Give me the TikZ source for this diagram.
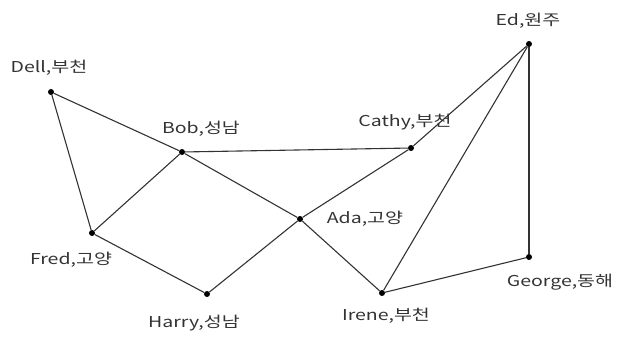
\documentclass[tikz,border=0pt]{standalone}
\usepackage{fontspec}
\setmainfont[FakeStretch=1.3]{Noto Sans CJK KR}
\begin{document}
\begin{tikzpicture}[x=1pt,y=-1pt,
  vtx/.style={circle,fill=black,inner sep=0pt,minimum size=6pt},
  lbl/.style={font=\fontsize{15}{17}\selectfont,text=black!80,inner sep=0pt},
  edge/.style={draw=black!80,line width=1.1pt}]
\useasboundingbox (0,0) rectangle (621,338);
\node[vtx] (dell) at (51,92) {};
\node[vtx] (bob) at (182,152) {};
\node[vtx] (cathy) at (411,148) {};
\node[vtx] (ed) at (529,44) {};
\node[vtx] (fred) at (92,233) {};
\node[vtx] (ada) at (300,219) {};
\node[vtx] (harry) at (207,294) {};
\node[vtx] (irene) at (382,293) {};
\node[vtx] (george) at (529,257) {};
\node[lbl] (ldell) at (49,68) {Dell,부천};
\node[lbl] (lbob) at (201,129) {Bob,성남};
\node[lbl] (lcathy) at (405,122) {Cathy,부천};
\node[lbl] (led) at (528,21) {Ed,원주};
\node[lbl] (lfred) at (71,260) {Fred,고양};
\node[lbl] (lharry) at (194,323) {Harry,성남};
\node[lbl] (lada) at (365,219) {Ada,고양};
\node[lbl] (lirene) at (386,316) {Irene,부천};
\node[lbl] (lgeorge) at (560,282) {George,동해};
\draw[edge] (dell) -- (bob);
\draw[edge] (dell) -- (fred);
\draw[edge] (bob) -- (fred);
\draw[edge] (bob) -- (cathy);
\draw[edge] (bob) -- (ada);
\draw[edge] (fred) -- (harry);
\draw[edge] (harry) -- (ada);
\draw[edge] (ada) -- (cathy);
\draw[edge] (ada) -- (irene);
\draw[edge] (cathy) -- (ed);
\draw[edge] (ed) -- (irene);
\draw[edge] (ed) -- (george);
\draw[edge] (george) -- (irene);
\end{tikzpicture}
\end{document}
